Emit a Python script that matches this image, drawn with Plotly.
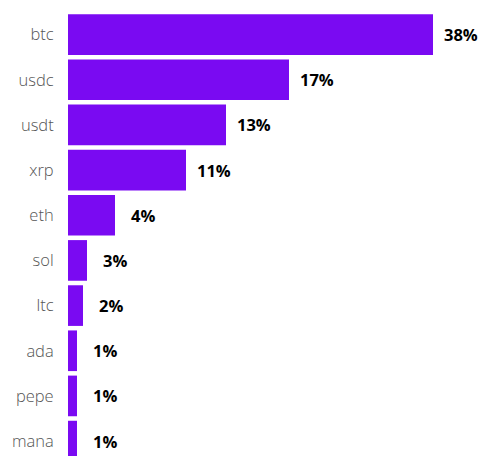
import plotly.graph_objects as go

categories = ["btc", "usdc", "usdt", "xrp", "eth", "sol", "ltc", "ada", "pepe", "mana"]
values = [365, 221, 158, 118, 47, 19, 15, 9, 9, 9]
labels = ["38%", "17%", "13%", "11%", "4%", "3%", "2%", "1%", "1%", "1%"]

BAR = "#7a0af2"

fig = go.Figure(
    go.Bar(
        x=values,
        y=categories,
        orientation="h",
        marker=dict(color=BAR, line=dict(width=0)),
        hoverinfo="skip",
    )
)

for c, v, t in zip(categories, values, labels):
    fig.add_annotation(
        x=v, y=c, text=t, showarrow=False, xanchor="center", yanchor="middle",
        xshift=27.5, font=dict(family="Open Sans", size=16.5, color="#000000", weight="bold"),
    )

fig.update_layout(
    width=482,
    height=456,
    margin=dict(l=68, r=0, t=12, b=0, autoexpand=False),
    paper_bgcolor="white",
    plot_bgcolor="white",
    bargap=0.1,
    showlegend=False,
    xaxis=dict(visible=False, range=[0, 414], fixedrange=True),
    yaxis=dict(
        type="category",
        categoryorder="array",
        categoryarray=categories,
        range=[9.33, -0.5],
        showgrid=False,
        zeroline=False,
        showline=False,
        ticks="outside",
        ticklen=10,
        tickcolor="rgba(0,0,0,0)",
        tickfont=dict(family="Open Sans", size=16.5, color="#555555", weight=300),
        fixedrange=True,
    ),
)

fig.write_html("out.html", config={"displayModeBar": False},
               post_script="document.body.style.margin='0';")
